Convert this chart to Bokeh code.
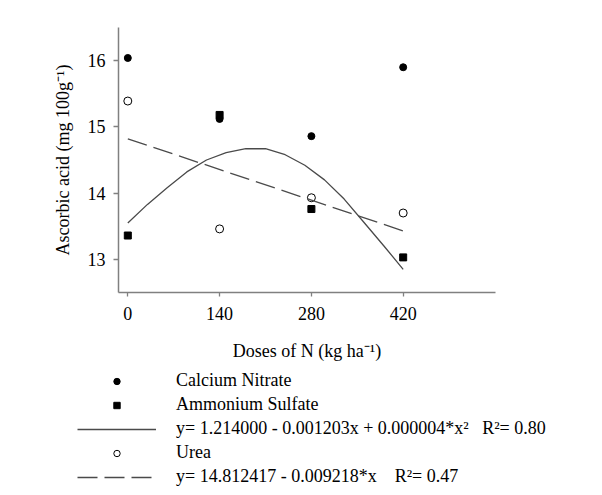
from bokeh.plotting import figure
from bokeh.layouts import column
from bokeh.models import Range1d, FixedTicker, Legend, LegendItem
from bokeh.embed import file_html
from bokeh.resources import INLINE

# ---- data ----
doses = [0, 140, 280, 420]
calcium_nitrate = [16.04, 15.12, 14.86, 15.90]
ammonium_sulfate = [13.36, 15.18, 13.76, 13.03]
urea = [15.39, 13.46, 13.93, 13.70]

# fitted curves as drawn in the reference
quad_x = [0, 30, 60, 90, 120, 150, 180, 210, 240, 270, 300, 330, 360, 390, 420]
quad_y = [13.55, 13.83, 14.08, 14.32, 14.50, 14.61, 14.67, 14.67, 14.58, 14.42,
          14.20, 13.91, 13.56, 13.21, 12.85]
lin_x = [0, 420]
lin_y = [14.82, 13.43]

x_ticks = [0, 140, 280, 420]
y_ticks = [13, 14, 15, 16]

labels = [
    "Calcium Nitrate",
    "Ammonium Sulfate",
    "y= 1.214000 - 0.001203x + 0.000004*x\u00b2\u00a0\u00a0\u00a0R\u00b2= 0.80",
    "Urea",
    "y= 14.812417 - 0.009218*x\u00a0\u00a0\u00a0\u00a0R\u00b2= 0.47",
]

FONT = "Liberation Serif"
GRAY = "#808080"
LINE = "#4a4a4a"

TOP_H = 368


def draw_series(fig):
    r_cn = fig.scatter(doses, calcium_nitrate, marker="circle", size=7,
                       fill_color="black", line_color="black")
    r_as = fig.scatter(doses, ammonium_sulfate, marker="square", size=7,
                       fill_color="black", line_color="black")
    r_quad = fig.line(quad_x, quad_y, line_color=LINE, line_width=1.3)
    r_urea = fig.scatter(doses, urea, marker="circle", size=8,
                         fill_color="white", line_color="black", line_width=1)
    r_lin = fig.line(lin_x, lin_y, line_color=LINE, line_width=1.3, line_dash="20 7")
    return [r_cn, r_as, r_quad, r_urea, r_lin]


# ---- main chart ----
p = figure(width=602, height=TOP_H, output_backend="svg", toolbar_location=None,
           x_range=Range1d(-14.2, 560.8), y_range=Range1d(12.5, 16.5),
           min_border_left=118, min_border_right=107,
           min_border_top=27, min_border_bottom=TOP_H - 292)
p.frame_align = False
p.xgrid.visible = False
p.ygrid.visible = False
p.outline_line_color = None
draw_series(p)

for ax, ticks, tl in ((p.xaxis[0], x_ticks, 4), (p.yaxis[0], y_ticks, 5)):
    ax.ticker = FixedTicker(ticks=ticks)
    ax.minor_tick_line_color = None
    ax.axis_line_color = GRAY
    ax.axis_line_width = 1.5
    ax.major_tick_line_color = GRAY
    ax.major_tick_line_width = 1.3
    ax.major_tick_in = 0
    ax.major_tick_out = tl
    ax.major_label_text_font = FONT
    ax.major_label_text_font_size = "18px"
    ax.major_label_text_color = "black"
    ax.axis_label_text_font = FONT
    ax.axis_label_text_font_size = "18px"
    ax.axis_label_text_font_style = "normal"
    ax.axis_label_text_color = "black"

p.xaxis.axis_label = "Doses of N (kg ha\u207b\u00b9)"
p.yaxis.axis_label = "Ascorbic acid (mg 100g\u207b\u00b9)"
p.xaxis.major_label_standoff = 10
p.yaxis.major_label_standoff = 8
p.xaxis.axis_label_standoff = 18
p.yaxis.axis_label_standoff = 12

# ---- legend strip below the chart ----
leg_h = 495 - TOP_H
q = figure(width=602, height=leg_h, output_backend="svg", toolbar_location=None,
           x_range=Range1d(1000, 1001), y_range=Range1d(1000, 1001),
           x_axis_location=None, y_axis_location=None, min_border=0)
q.frame_align = False
q.grid.visible = False
q.outline_line_color = None
legend_renderers = draw_series(q)

items = [LegendItem(label=lab, renderers=[r]) for lab, r in zip(labels, legend_renderers)]
legend = Legend(items=items, location=(77, leg_h - 119), orientation="vertical",
                glyph_width=79, glyph_height=16, label_height=20,
                label_standoff=20, spacing=3, padding=0, margin=0,
                border_line_color=None, background_fill_alpha=0,
                label_text_font=FONT, label_text_font_size="18px",
                label_text_color="black")
q.add_layout(legend)

layout = column(p, q, spacing=0)
open("out.html", "w").write(file_html(layout, INLINE))
